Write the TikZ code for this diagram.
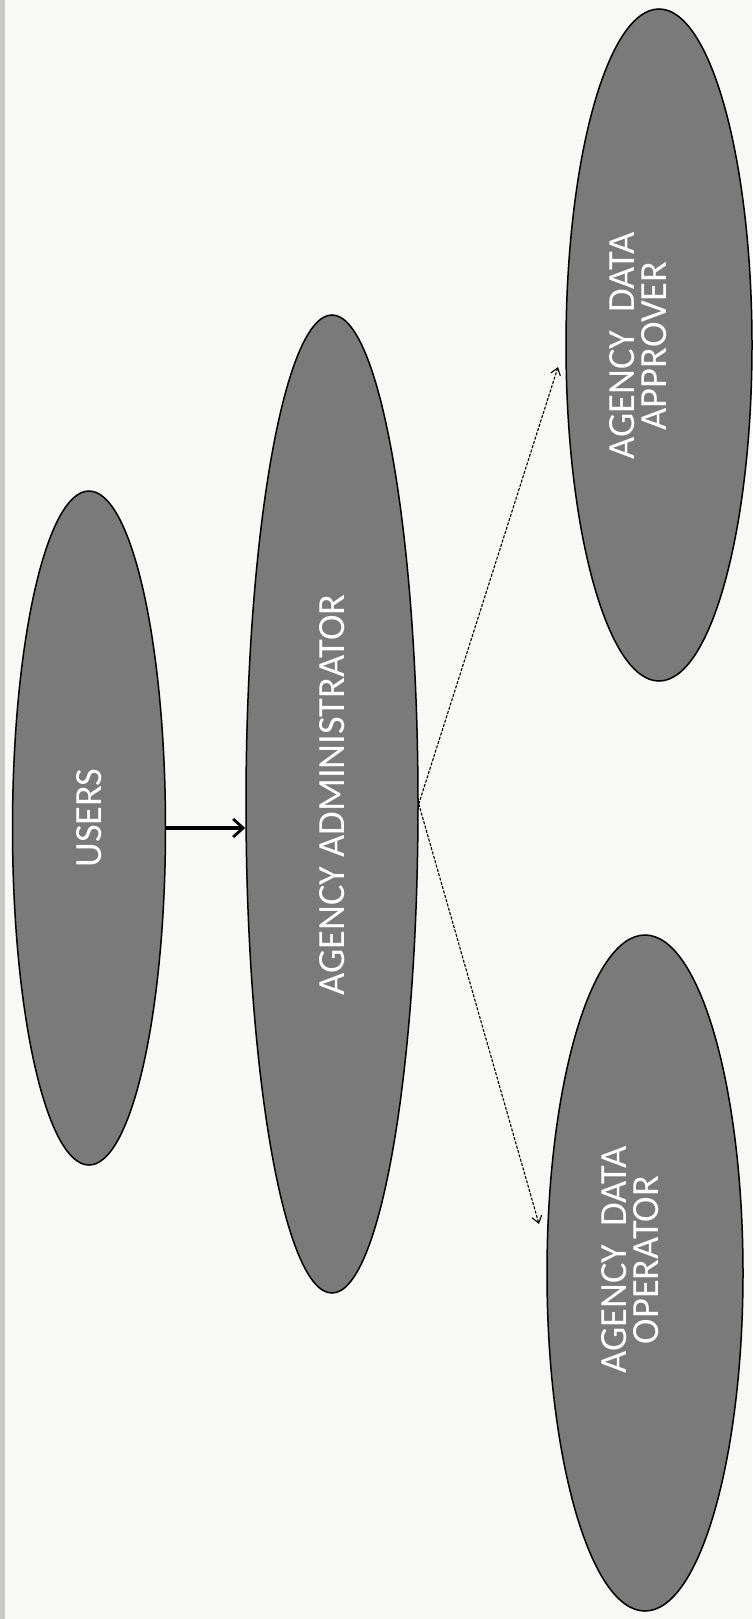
\documentclass[tikz,border=0pt]{standalone}
\usepackage{fontspec}
\setmainfont{Carlito}
\usetikzlibrary{shapes.geometric,arrows.meta}
\definecolor{roleGray}{HTML}{7A7A7A}
\definecolor{paper}{HTML}{F8F8F6}
\definecolor{edgeShade}{HTML}{C8C8C6}
\begin{document}
\begin{tikzpicture}[x=1pt,y=-1pt,
  role/.style={ellipse, draw=black, line width=1.5pt, fill=roleGray, inner sep=0pt},
  rolelabel/.style={text=white, font=\fontsize{38.5}{32}\selectfont, rotate=90, align=center, inner sep=0pt},
  mainlink/.style={line width=3.2pt, -{Straight Barb[length=10pt,width=18pt,line width=2.8pt]}},
  sublink/.style={line width=1.1pt, dash pattern=on 3pt off 1.5pt, -{Straight Barb[length=7pt,width=10pt,line width=1.1pt]}}]
% page
\fill[paper] (0,0) rectangle (752,1619);
\fill[edgeShade] (0,0) rectangle (5,1619);
\useasboundingbox (0,0) rectangle (752,1619);

% role ellipses
\node[role, minimum width=153pt, minimum height=674pt] (users)    at (89,828)  {};
\node[role, minimum width=172pt, minimum height=978pt] (admin)    at (332,804) {};
\node[role, minimum width=186pt, minimum height=672pt] (approver) at (659,345) {};
\node[role, minimum width=196pt, minimum height=676pt] (operator) at (645,1273) {};

% role names
\node[rolelabel] (usersText)    at (89,818)  {USERS};
\node[rolelabel] (adminText)    at (332,795) {AGENCY ADMINISTRATOR};
\node[rolelabel] (approverText) at (638,346) {AGENCY\ \ DATA\\APPROVER};
\node[rolelabel] (operatorText) at (630,1260) {AGENCY\ \ DATA\\OPERATOR};

% arrow tips next to the sub-roles
\coordinate (approverTip) at (558,367);
\coordinate (operatorTip) at (539,1224);

% connectors
\draw[mainlink] (users.east) -- (users.east -| admin.west);
\draw[sublink] (admin.east) -- (approverTip);
\draw[sublink] (admin.east) -- (operatorTip);
\end{tikzpicture}
\end{document}
